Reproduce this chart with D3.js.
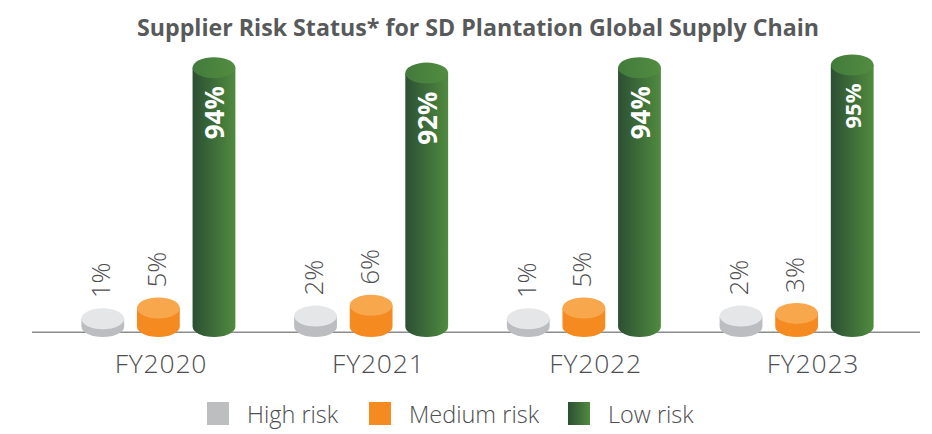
<!DOCTYPE html>
<html>
<head>
<meta charset="utf-8">
<script src="https://cdn.jsdelivr.net/npm/d3@7"></script>
<style>
  html, body { margin: 0; padding: 0; background: #fff; }
  svg { display: block; }
</style>
</head>
<body>
<svg id="chart" width="932" height="434"></svg>
<script>
const title = "Supplier Risk Status* for SD Plantation Global Supply Chain";
const years = ["FY2020", "FY2021", "FY2022", "FY2023"];
const seriesNames = ["High risk", "Medium risk", "Low risk"];
const highRisk = [1, 2, 1, 2];
const mediumRisk = [5, 6, 5, 3];
const lowRisk = [94, 92, 94, 95];

const seriesValues = [highRisk, mediumRisk, lowRisk];
const data = years.map((y, i) => ({
  year: y,
  values: seriesNames.map((s, j) => ({ series: s, value: seriesValues[j][i], year: y }))
}));

const svg = d3.select("#chart");
const defs = svg.append("defs");

const greenGrad = defs.append("linearGradient").attr("id", "greenSide")
  .attr("x1", "0%").attr("x2", "100%").attr("y1", "0%").attr("y2", "0%");
greenGrad.append("stop").attr("offset", "0%").attr("stop-color", "#2c4f33");
greenGrad.append("stop").attr("offset", "100%").attr("stop-color", "#508b3f");
const greenTop = defs.append("linearGradient").attr("id", "greenTop")
  .attr("x1", "0%").attr("x2", "100%").attr("y1", "0%").attr("y2", "0%");
greenTop.append("stop").attr("offset", "0%").attr("stop-color", "#437a3c");
greenTop.append("stop").attr("offset", "100%").attr("stop-color", "#528d40");

const style = {
  "High risk":   { side: "#bcbdc0", top: "#e5e6e8", legend: "#bcbec0" },
  "Medium risk": { side: "#f58a21", top: "#f9a74c", legend: "#f58a21" },
  "Low risk":    { side: "url(#greenSide)", top: "url(#greenTop)", legend: "url(#greenSide)" }
};

// Scales
const x0 = d3.scaleBand().domain(years).range([52, 903]).paddingInner(0).paddingOuter(0);
const x1 = d3.scaleBand().domain(seriesNames).range([-77, 77]).paddingInner(0.23).paddingOuter(0);
const y = d3.scaleLinear().domain([0, 100]).range([321.5, 51.5]);
const baseY = 326.5;
const ry = 10.5;
const axisX = d3.scalePoint().domain(years).range([161, 813]);

// Title
svg.append("text")
  .attr("x", 478).attr("y", 36)
  .attr("text-anchor", "middle")
  .attr("font-family", "'Open Sans', sans-serif")
  .attr("font-weight", 700)
  .attr("font-size", 23.2)
  .attr("fill", "#58595b")
  .text(title);

// Baseline
svg.append("line")
  .attr("x1", 32).attr("x2", 920)
  .attr("y1", 332.3).attr("y2", 332.3)
  .attr("stroke", "#8c8c8e").attr("stroke-width", 1.6);

// Cylinders
const groups = svg.selectAll("g.grp").data(data).join("g")
  .attr("class", "grp")
  .attr("transform", d => `translate(${x0(d.year) + x0.bandwidth() / 2},0)`);

const bars = groups.selectAll("g.bar").data(d => d.values).join("g").attr("class", "bar");

bars.each(function(d) {
  const g = d3.select(this);
  const rx = x1.bandwidth() / 2;
  const cx = x1(d.series) + rx;
  const top = y(d.value);
  const st = style[d.series];
  g.append("path")
    .attr("d", `M${cx - rx},${top} L${cx - rx},${baseY} A${rx},${ry} 0 0 0 ${cx + rx},${baseY} L${cx + rx},${top} Z`)
    .attr("fill", st.side);
  g.append("ellipse")
    .attr("cx", cx).attr("cy", top).attr("rx", rx).attr("ry", ry)
    .attr("fill", st.top);

  if (d.series === "Low risk") {
    g.append("text")
      .attr("transform", `translate(${cx + 1},${top - ry + 29}) rotate(-90)`)
      .attr("text-anchor", "end")
      .attr("dy", "0.36em")
      .attr("font-family", "'Open Sans', sans-serif")
      .attr("font-weight", 700)
      .attr("font-size", d.year === "FY2023" ? 22 : 26)
      .attr("fill", "#ffffff")
      .text(d.value + "%");
  } else {
    g.append("text")
      .attr("transform", `translate(${cx - 2},${top - ry - 10}) rotate(-90)`)
      .attr("text-anchor", "start")
      .attr("dy", "0.36em")
      .attr("font-family", "'Open Sans', sans-serif")
      .attr("font-weight", 300)
      .attr("font-size", 26)
      .attr("fill", "#4d4e50")
      .text(d.value + "%");
  }
});

// Category labels
svg.append("g").selectAll("text").data(years).join("text")
  .attr("x", d => axisX(d))
  .attr("y", 373)
  .attr("text-anchor", "middle")
  .attr("font-family", "'Open Sans', sans-serif")
  .attr("font-weight", 300)
  .attr("font-size", 26.5)
  .attr("letter-spacing", 0.8)
  .attr("fill", "#4d4e50")
  .text(d => d);

// Legend
const legendX = [207, 369, 568];
const legend = svg.append("g").selectAll("g").data(seriesNames).join("g")
  .attr("transform", (d, i) => `translate(${legendX[i]},402)`);
legend.append("rect")
  .attr("width", 22).attr("height", 23)
  .attr("fill", d => style[d].legend);
legend.append("text")
  .attr("x", 40).attr("y", 21)
  .attr("font-family", "'Open Sans', sans-serif")
  .attr("font-weight", 300)
  .attr("font-size", 23.5)
  .attr("fill", "#4d4e50")
  .text(d => d);
</script>
</body>
</html>
